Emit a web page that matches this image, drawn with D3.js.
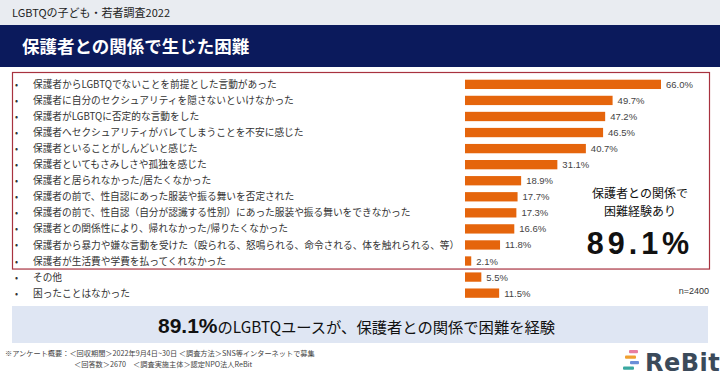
<!DOCTYPE html>
<html><head><meta charset="utf-8">
<script src="https://cdn.jsdelivr.net/npm/d3@7"></script>
<style>
html,body{margin:0;padding:0;background:#fff;}
svg{display:block;}
</style></head>
<body>
<svg id="chart" width="720" height="378"></svg>
<script>
const categories = [
  "保護者からLGBTQでないことを前提とした言動があった",
  "保護者に自分のセクシュアリティを隠さないといけなかった",
  "保護者がLGBTQに否定的な言動をした",
  "保護者へセクシュアリティがバレてしまうことを不安に感じた",
  "保護者といることがしんどいと感じた",
  "保護者といてもさみしさや孤独を感じた",
  "保護者と居られなかった/居たくなかった",
  "保護者の前で、性自認にあった服装や振る舞いを否定された",
  "保護者の前で、性自認（自分が認識する性別）にあった服装や振る舞いをできなかった",
  "保護者との関係性により、帰れなかった/帰りたくなかった",
  "保護者から暴力や嫌な言動を受けた（殴られる、怒鳴られる、命令される、体を触れられる、等）",
  "保護者が生活費や学費を払ってくれなかった",
  "その他",
  "困ったことはなかった"
];
const values = [66.0, 49.7, 47.2, 46.5, 40.7, 31.1, 18.9, 17.7, 17.3, 16.6, 11.8, 2.1, 5.5, 11.5];
const headerText = "LGBTQの子ども・若者調査2022";
const titleText = "保護者との関係で生じた困難";
const calloutLines = ["保護者との関係で", "困難経験あり"];
const calloutValue = "89.1%";
const sampleText = "n=2400";
const bannerValue = "89.1%";
const bannerText = "のLGBTQユースが、保護者との関係で困難を経験";
const footLines = ["※アンケート概要：＜回収期間＞2022年9月4日~30日 ＜調査方法＞SNS等インターネットで募集",
                   "＜回答数＞2670　＜調査実施主体＞認定NPO法人ReBit"];

const JP = "'Noto Sans CJK JP','Noto Sans',sans-serif";
const SANS = "'Liberation Sans',Arial,sans-serif";
const svg = d3.select("#chart");

// header
svg.append("rect").attr("x",0).attr("y",0).attr("width",720).attr("height",25).attr("fill","#e9ecf1");
svg.append("text").attr("x",12).attr("y",17).attr("font-family",JP).attr("font-size",11).attr("fill","#222").text(headerText);
svg.append("rect").attr("x",0).attr("y",25).attr("width",720).attr("height",42).attr("fill","#0b1a5c");
svg.append("text").attr("x",22).attr("y",53).attr("font-family",JP).attr("font-weight",700).attr("font-size",17.5).attr("fill","#fff").text(titleText);

// scales
const x = d3.scaleLinear().domain([0, 66]).range([465, 661]);
const y = d3.scaleBand().domain(d3.range(categories.length)).range([76.5, 301]).paddingInner(0.42).paddingOuter(0.2);

// red box
const boxBottom = (y(11) + y.bandwidth() + y(12)) / 2;
svg.append("rect").attr("x",12.5).attr("y",72.5).attr("width",697).attr("height",boxBottom-72.5)
  .attr("fill","none").attr("stroke","#a8323f").attr("stroke-width",1.2);

const rows = svg.append("g");
const cy = i => y(i) + y.bandwidth()/2;

rows.selectAll("text.bullet").data(categories).join("text").attr("class","bullet")
  .attr("x",15).attr("y",(d,i)=>cy(i)+3.5).attr("font-family",JP).attr("font-size",9).attr("fill","#333").text("•");
rows.selectAll("text.lab").data(categories).join("text").attr("class","lab")
  .attr("x",33).attr("y",(d,i)=>cy(i)+3.6).attr("font-family",JP).attr("font-size",9.7).attr("fill","#333").text(d=>d);

rows.selectAll("rect.bar").data(values).join("rect").attr("class","bar")
  .attr("x",x(0)).attr("y",(d,i)=>y(i)).attr("width",d=>x(d)-x(0)).attr("height",y.bandwidth())
  .attr("fill","#e5650c");
rows.selectAll("text.val").data(values).join("text").attr("class","val")
  .attr("x",d=>x(d)+5).attr("y",(d,i)=>cy(i)+3.5).attr("font-family",SANS)
  .attr("font-size",9.5).attr("fill","#444").text(d=>d.toFixed(1)+"%");

// callout
svg.selectAll("text.co").data(calloutLines).join("text").attr("class","co")
  .attr("x",640).attr("y",(d,i)=>198+i*17.5).attr("text-anchor","middle")
  .attr("font-family",JP).attr("font-size",12).attr("fill","#111").text(d=>d);
svg.append("text").attr("x",640).attr("y",254).attr("text-anchor","middle")
  .attr("font-family",SANS).attr("font-size",30.5).attr("font-weight",700)
  .attr("letter-spacing",4).attr("fill","#111").text(calloutValue);

svg.append("text").attr("x",709).attr("y",294).attr("text-anchor","end")
  .attr("font-family",SANS).attr("font-size",9).attr("fill","#333").text(sampleText);

// banner
svg.append("rect").attr("x",12).attr("y",306).attr("width",696).attr("height",37).attr("fill","#dfe6f3");
const bt = svg.append("text").attr("x",158).attr("y",333).attr("font-family",JP).attr("fill","#111");
bt.append("tspan").attr("font-family",SANS).attr("font-weight",700).attr("font-size",21).text(bannerValue);
bt.append("tspan").attr("font-size",15.3).text(bannerText);

// footnote
svg.append("text").attr("x",5).attr("y",356).attr("font-family",JP).attr("font-size",7.2).attr("fill","#444").text(footLines[0]);
svg.append("text").attr("x",74).attr("y",367).attr("font-family",JP).attr("font-size",7.2).attr("fill","#444").text(footLines[1]);

// logo
const logo = svg.append("g");
const stripes = [[629,350,9,"#e87ea0"],[625,355.5,11,"#f0a030"],[630,361,9,"#6a8fd8"],[623,366.5,11,"#3aa8a0"]];
logo.selectAll("rect").data(stripes).join("rect")
  .attr("x",d=>d[0]).attr("y",d=>d[1]).attr("width",d=>d[2]).attr("height",3.2).attr("rx",1)
  .attr("fill",d=>d[3]);
logo.append("text").attr("x",645).attr("y",371).attr("font-family","'DejaVu Sans',sans-serif").attr("font-weight",700)
  .attr("font-size",24).attr("letter-spacing",0.5).attr("fill","#3b4a5a").text("ReBit");
</script>
</body></html>
